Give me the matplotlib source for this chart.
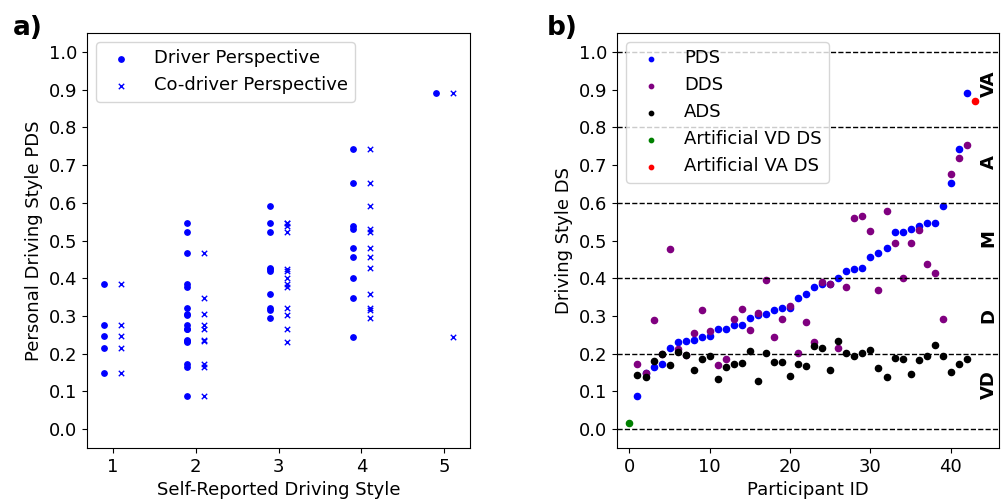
import matplotlib
matplotlib.use("Agg")
import matplotlib.pyplot as plt
import numpy as np

# Personal driving style (PDS) per participant, ids 1..42 (sorted ascending)
pds = [0.088, 0.149, 0.166, 0.173, 0.216, 0.231, 0.233, 0.236, 0.243, 0.246,
       0.265, 0.266, 0.275, 0.276, 0.294, 0.302, 0.306, 0.315, 0.320, 0.322,
       0.347, 0.357, 0.378, 0.384, 0.386, 0.400, 0.419, 0.425, 0.426, 0.456,
       0.468, 0.480, 0.522, 0.522, 0.530, 0.539, 0.546, 0.546, 0.592, 0.653,
       0.743, 0.891]

# Driver driving style (DDS)
dds = [0.172, 0.149, 0.288, 0.199, 0.478, 0.212, 0.197, 0.255, 0.315, 0.260,
       0.170, 0.187, 0.291, 0.319, 0.264, 0.308, 0.395, 0.243, 0.293, 0.326,
       0.202, 0.285, 0.231, 0.389, 0.385, 0.216, 0.376, 0.559, 0.564, 0.525,
       0.370, 0.577, 0.493, 0.400, 0.493, 0.527, 0.439, 0.413, 0.293, 0.677,
       0.719, 0.752]

# Average driving style (ADS)
ads = [0.144, 0.139, 0.180, 0.200, 0.169, 0.205, 0.197, 0.156, 0.186, 0.195,
       0.133, 0.164, 0.172, 0.176, 0.207, 0.128, 0.201, 0.179, 0.177, 0.140,
       0.172, 0.167, 0.220, 0.214, 0.158, 0.233, 0.202, 0.194, 0.201, 0.211,
       0.163, 0.138, 0.188, 0.187, 0.145, 0.182, 0.195, 0.223, 0.195, 0.151,
       0.173, 0.187]

# Self-reported driving style from driver and co-driver perspective
self_driver = [2, 1, 2, 2, 1, 2, 2, 2, 4, 1, 2, 2, 1, 2, 3, 2, 2, 3, 2, 3,
               4, 3, 2, 1, 2, 4, 3, 3, 3, 4, 2, 4, 2, 3, 4, 4, 2, 3, 3, 4,
               4, 5]
self_codriver = [2, 1, 2, 2, 1, 3, 2, 2, 5, 1, 3, 2, 1, 2, 4, 3, 2, 4, 4, 3,
                 2, 4, 3, 1, 3, 3, 3, 3, 4, 4, 2, 4, 4, 3, 4, 3, 3, 3, 4, 4,
                 4, 5]

# Artificial reference participants
artificial_vd = (0, 0.016)
artificial_va = (43, 0.869)

class_bounds = [0.0, 0.2, 0.4, 0.6, 0.8, 1.0]
class_names = ["VD", "D", "M", "A", "VA"]
class_label_y = [0.117, 0.30, 0.507, 0.709, 0.915]

FS = 13

plt.rcParams['font.family'] = 'DejaVu Sans'
fig = plt.figure(figsize=(10.01, 5.01), dpi=100)
ax1 = fig.add_axes([87 / 1001, 1 - 448 / 501, 383 / 1001, 415 / 501])
ax2 = fig.add_axes([617 / 1001, 1 - 448 / 501, 382 / 1001, 415 / 501])

# a) PDS vs self-reported style
ids = np.arange(1, len(pds) + 1)
ax1.scatter(np.array(self_driver) - 0.1, pds, s=15, color='blue', marker='o',
            label='Driver Perspective')
ax1.scatter(np.array(self_codriver) + 0.1, pds, s=15, color='blue', marker='x',
            linewidths=1, label='Co-driver Perspective')
ax1.set_xticks([1, 2, 3, 4, 5])
ax1.set_yticks(np.round(np.arange(0, 1.01, 0.1), 1))
ax1.set_ylim(-0.05, 1.05)
ax1.set_xlabel('Self-Reported Driving Style', fontsize=FS)
ax1.set_ylabel('Personal Driving Style PDS', fontsize=FS)
ax1.tick_params(labelsize=FS)
ax1.legend(loc='upper left', fontsize=FS)

# b) driving styles per participant
for b in class_bounds:
    ax2.axhline(b, color='black', linestyle='--', linewidth=1)
ax2.scatter(ids, pds, s=20, color='blue', label='PDS')
ax2.scatter(ids, dds, s=20, color='purple', label='DDS')
ax2.scatter(ids, ads, s=20, color='black', label='ADS')
ax2.scatter([artificial_vd[0]], [artificial_vd[1]], s=20, color='green',
            label='Artificial VD DS')
ax2.scatter([artificial_va[0]], [artificial_va[1]], s=20, color='red',
            label='Artificial VA DS')
for name, y in zip(class_names, class_label_y):
    ax2.text(44.7, y, name, rotation=90, ha='center', va='center',
             fontsize=FS, fontweight='bold')
ax2.set_xlim(-1.55, 46.0)
ax2.set_ylim(-0.05, 1.05)
ax2.set_yticks(np.round(np.arange(0, 1.01, 0.1), 1))
ax2.set_xlabel('Participant ID', fontsize=FS)
ax2.set_ylabel('Driving Style DS', fontsize=FS)
ax2.tick_params(labelsize=FS)
ax2.legend(loc='upper left', fontsize=FS, markerscale=0.7)

fig.text(13 / 1001, 1 - 28 / 501, 'a)', fontsize=19, fontweight='bold',
         va='center')
fig.text(547 / 1001, 1 - 28 / 501, 'b)', fontsize=19, fontweight='bold',
         va='center')

fig.savefig('out.png', dpi=100)
plt.close(fig)
